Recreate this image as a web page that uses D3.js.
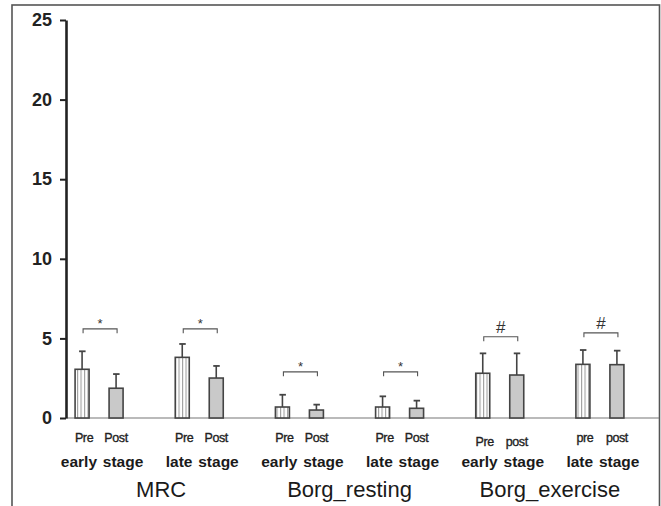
<!DOCTYPE html>
<html>
<head>
<meta charset="utf-8">
<script src="https://cdn.jsdelivr.net/npm/d3@7/dist/d3.min.js"></script>
<style>
  html, body { margin: 0; padding: 0; background: #fff; }
  svg { display: block; font-family: "Liberation Sans", Arial, sans-serif; }
</style>
</head>
<body>
<svg id="chart" width="661" height="506"></svg>
<script>
// Scores per measure, stage and time point
const measures = ["MRC", "Borg_resting", "Borg_exercise"];
const stages = ["early", "late"];
const groups = ["MRC-early", "MRC-late", "BR-early", "BR-late", "BE-early", "BE-late"];
const preMean  = [3.06, 3.81, 0.69, 0.69, 2.81, 3.37];
const preErr   = [4.19, 4.65, 1.46, 1.36, 4.06, 4.27];
const postMean = [1.87, 2.51, 0.50, 0.61, 2.70, 3.35];
const postErr  = [2.76, 3.27, 0.84, 1.09, 4.06, 4.23];
const timeLabels = [["Pre", "Post"], ["Pre", "Post"], ["Pre", "Post"], ["Pre", "Post"], ["Pre", "post"], ["pre", "post"]];
const sigMarks = ["*", "*", "*", "*", "#", "#"];
const sigLevel = [5.6, 5.6, 2.9, 2.9, 5.1, 5.35];
const yTicks = [0, 5, 10, 15, 20, 25];

const svg = d3.select("#chart");

// outer frame
svg.append("rect")
  .attr("x", 12).attr("y", 5).attr("width", 647.5).attr("height", 540)
  .attr("fill", "none").attr("stroke", "#555").attr("stroke-width", 1.6);

// striped fill for the "pre" bars
const defs = svg.append("defs");
const pat = defs.append("pattern")
  .attr("id", "stripes").attr("patternUnits", "userSpaceOnUse")
  .attr("width", 3.5).attr("height", 10);
pat.append("rect").attr("width", 3.5).attr("height", 10).attr("fill", "#fff");
pat.append("line").attr("x1", 0.6).attr("x2", 0.6).attr("y1", 0).attr("y2", 10)
  .attr("stroke", "#8a8a8a").attr("stroke-width", 0.9);

const y = d3.scaleLinear().domain([0, 25]).range([418, 20]);
const x = d3.scaleBand().domain(groups).range([49, 650]).padding(0);
const inner = d3.scaleBand().domain(["pre", "post"]).range([-24, 24]).paddingInner(20 / 34);
const bw = inner.bandwidth();
const cx = (g, k) => x(g) + x.bandwidth() / 2 + inner(k) + bw / 2;

// baseline
svg.append("line")
  .attr("x1", 66).attr("x2", 659).attr("y1", y(0)).attr("y2", y(0))
  .attr("stroke", "#777").attr("stroke-width", 1.2);

// y axis
const yAxis = d3.axisLeft(y).tickValues(yTicks).tickSize(6).tickPadding(8).tickSizeOuter(0);
const ya = svg.append("g").attr("transform", "translate(66,0)").call(yAxis);
ya.select(".domain").attr("stroke", "#222").attr("stroke-width", 2.6);
ya.selectAll(".tick line").attr("stroke", "#222").attr("stroke-width", 2);
ya.selectAll(".tick text")
  .attr("fill", "#222").attr("font-size", 18).attr("font-weight", "bold")
  .attr("font-family", "'Liberation Sans', Arial, sans-serif");

// bars, error bars, labels
const rows = groups.map((g, i) => ({ g, i }));
const series = [
  { key: "pre", mean: preMean, err: preErr, fill: "url(#stripes)" },
  { key: "post", mean: postMean, err: postErr, fill: "#c9c9c9" }
];

series.forEach(s => {
  const gS = svg.append("g");
  rows.forEach(({ g, i }) => {
    const c = cx(g, s.key);
    gS.append("line")
      .attr("x1", c).attr("x2", c).attr("y1", y(s.mean[i])).attr("y2", y(s.err[i]))
      .attr("stroke", "#444").attr("stroke-width", 1.6);
    gS.append("line")
      .attr("x1", c - 3).attr("x2", c + 3.5).attr("y1", y(s.err[i])).attr("y2", y(s.err[i]))
      .attr("stroke", "#444").attr("stroke-width", 1.8);
    gS.append("rect")
      .attr("x", x(g) + x.bandwidth() / 2 + inner(s.key))
      .attr("y", y(s.mean[i]))
      .attr("width", bw)
      .attr("height", y(0) - y(s.mean[i]))
      .attr("fill", s.fill)
      .attr("stroke", "#444").attr("stroke-width", 1.6);
  });
});

// significance brackets
rows.forEach(({ g, i }) => {
  const x1 = cx(g, "pre") + 1, x2 = cx(g, "post") + 1, yb = y(sigLevel[i]);
  svg.append("path")
    .attr("d", `M${x1},${yb + 4.5}V${yb}H${x2}V${yb + 4.5}`)
    .attr("fill", "none").attr("stroke", "#555").attr("stroke-width", 1.1);
  const isHash = sigMarks[i] === "#";
  svg.append("text")
    .attr("x", (x1 + x2) / 2).attr("y", isHash ? yb - 4 : yb - 1)
    .attr("text-anchor", "middle")
    .attr("font-size", isHash ? 17 : 13)
    .attr("fill", "#333")
    .text(sigMarks[i]);
});

// time point labels under each bar
rows.forEach(({ g, i }) => {
  const dy = i === 4 ? 4 : 0;
  ["pre", "post"].forEach((k, j) => {
    svg.append("text")
      .attr("x", cx(g, k) + (j === 0 ? 2 : 0)).attr("y", 442 + dy)
      .attr("text-anchor", "middle")
      .attr("font-size", 12.5).attr("fill", "#222")
      .attr("stroke", "#222").attr("stroke-width", 0.35)
      .attr("letter-spacing", -0.4)
      .text(timeLabels[i][j]);
  });
});

// stage labels under each pair
rows.forEach(({ g, i }) => {
  svg.append("text")
    .attr("x", x(g) + x.bandwidth() / 2 + 3).attr("y", 467)
    .attr("text-anchor", "middle")
    .attr("font-size", 15.5).attr("font-weight", "bold").attr("fill", "#1a1a1a")
    .attr("word-spacing", 1.5)
    .text(`${stages[i % 2]} stage`);
});

// measure names
measures.forEach((m, k) => {
  const a = x(groups[2 * k]), b = x(groups[2 * k + 1]) + x.bandwidth();
  const nudge = k === 0 ? 12 : 0;
  svg.append("text")
    .attr("x", (a + b) / 2 + nudge).attr("y", 497)
    .attr("text-anchor", "middle")
    .attr("font-size", 22).attr("fill", "#1a1a1a")
    .text(m);
});
</script>
</body>
</html>
